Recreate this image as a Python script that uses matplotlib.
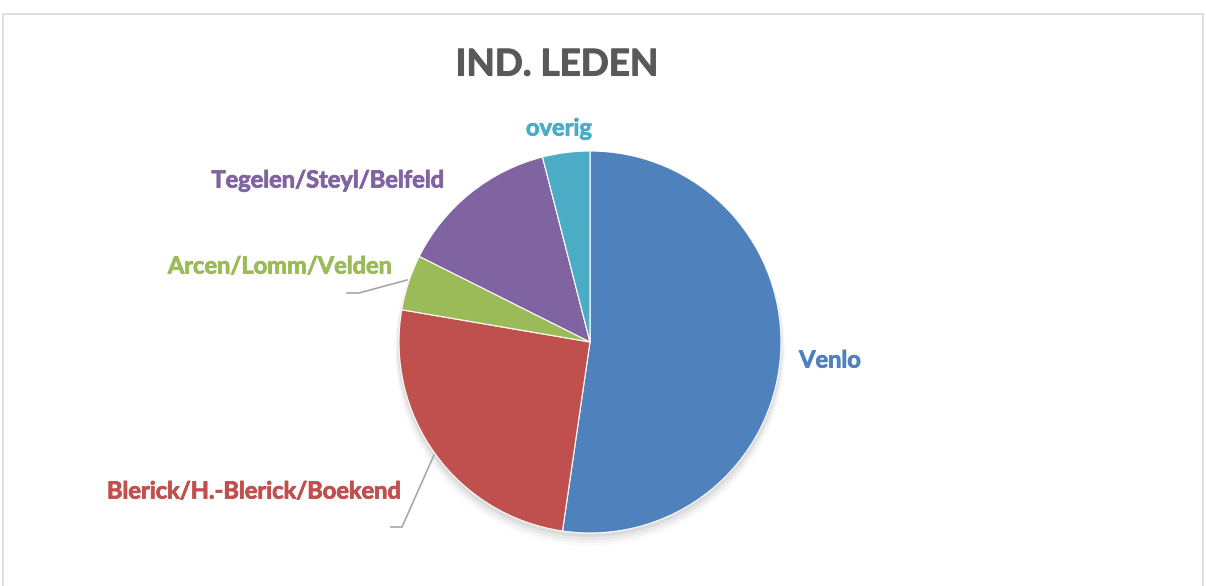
import matplotlib.pyplot as plt
import matplotlib.patheffects as pe
from matplotlib.patches import Circle, Rectangle

# data (shares, clockwise from the top)
regios = ["Venlo", "Blerick/H.-Blerick/Boekend", "Arcen/Lomm/Velden",
          "Tegelen/Steyl/Belfeld", "overig"]
aandeel = [52.3, 25.4, 4.7, 13.6, 4.0]
kleuren = ["#4F81BD", "#C0504D", "#9BBB59", "#8064A2", "#4BACC6"]

W, H = 1206, 586
fig = plt.figure(figsize=(W / 100, H / 100), dpi=100)
ax = fig.add_axes([0, 0, 1, 1])
ax.set_xlim(0, W)
ax.set_ylim(0, H)
ax.set_aspect("equal")
ax.axis("off")

# chart border
ax.add_patch(Rectangle((3, -5), W - 6, H - 14 + 5, fill=False,
                       edgecolor="#D9D9D9", linewidth=1.2))

cx, cy, r = 590, H - 342, 191

# soft shadow
for i, a in enumerate([0.05, 0.04, 0.03, 0.02]):
    ax.add_patch(Circle((cx, cy - 3 - i * 2), r + 1 + i, color="black",
                        alpha=a, linewidth=0, zorder=1))

ax.pie(aandeel, colors=kleuren, startangle=90, counterclock=False,
       center=(cx, cy), radius=r, frame=True,
       wedgeprops=dict(linewidth=0.8, edgecolor="white", zorder=2))
ax.set_xlim(0, W)
ax.set_ylim(0, H)
ax.axis("off")

font = "Lato"
ax.text(557, H - 65, "IND. LEDEN", ha="center", va="center", fontsize=26.5,
        fontweight="bold", color="#595959", family=font,
        path_effects=[pe.withStroke(linewidth=0.8, foreground="#595959")])

# label positions (pixel centres)
lab_pos = [(830, 360), (254, 491), (280, 266), (328, 180), (559, 128)]
for naam, kl, (x, y) in zip(regios, kleuren, lab_pos):
    ax.text(x, H - y, naam, ha="center", va="center", fontsize=17,
            fontweight="bold", color=kl, family=font,
            path_effects=[pe.withStroke(linewidth=0.6, foreground=kl)])

# leader lines
ax.plot([347, 359, 407], [H - 293, H - 293, H - 280], color="#A6A6A6", lw=1.2)
ax.plot([391, 402, 434], [H - 527, H - 527, H - 455], color="#A6A6A6", lw=1.2)

fig.savefig("out.png", dpi=100)
